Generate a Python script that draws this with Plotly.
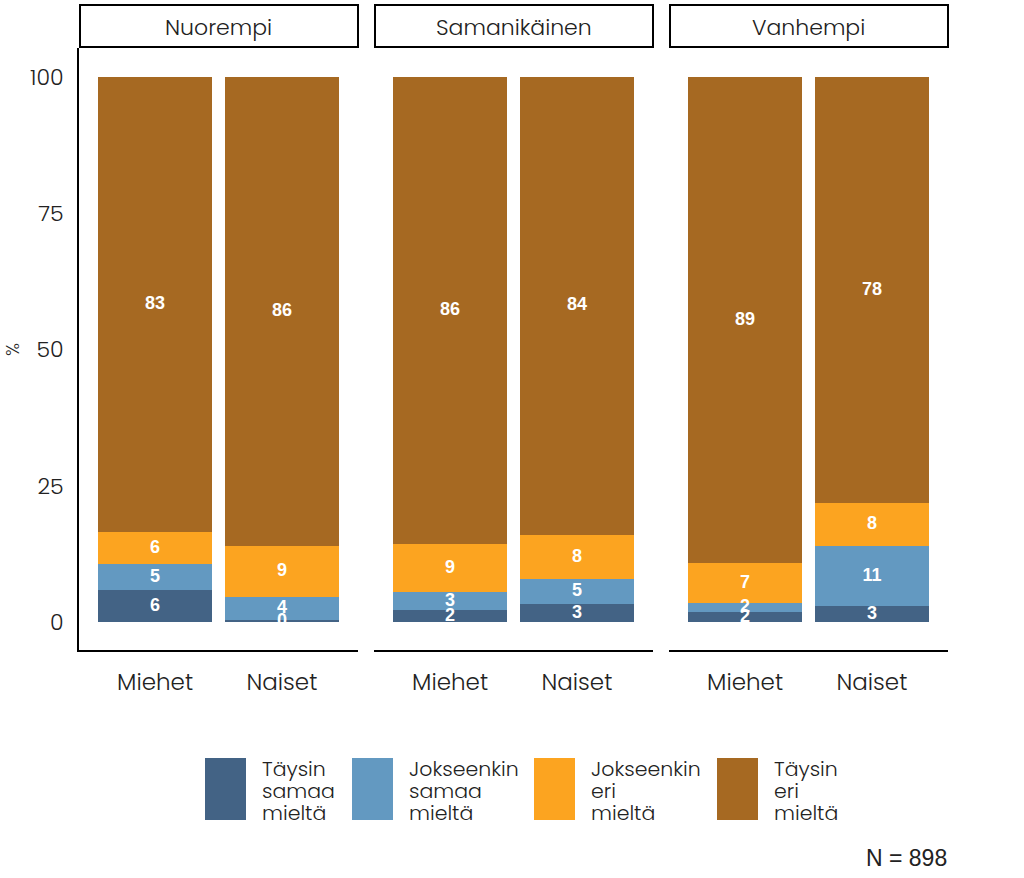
import plotly.graph_objects as go

# ---- data ----
panels = ["Nuorempi", "Samanikäinen", "Vanhempi"]
genders = ["Miehet", "Naiset"]
categories = ["Täysin samaa mieltä", "Jokseenkin samaa mieltä",
              "Jokseenkin eri mieltä", "Täysin eri mieltä"]
legend_lines = [["Täysin", "samaa", "mieltä"], ["Jokseenkin", "samaa", "mieltä"],
                ["Jokseenkin", "eri", "mieltä"], ["Täysin", "eri", "mieltä"]]
colors = ["#436385", "#6399c1", "#fca420", "#a66922"]

# values[panel][category] -> [Miehet, Naiset]
values = {
    "Nuorempi":     [[5.9, 0.4], [4.7, 4.3], [6.0, 9.2], [83.4, 86.1]],
    "Samanikäinen": [[2.2, 3.3], [3.3, 4.6], [8.8, 8.1], [85.7, 84.0]],
    "Vanhempi":     [[1.8, 2.9], [1.7, 11.0], [7.3, 7.9], [89.2, 78.2]],
}
yticks = [0, 25, 50, 75, 100]
caption = "N = 898"

W, H = 1024, 878
def px_x(x): return x / W
def px_y(y): return 1 - y / H

panel_px = [(79, 358), (374, 653), (669, 948)]
ytop, ybot = 48, 650
FONT = "Poppins, Inter, Open Sans, sans-serif"
LIGHT = dict(family=FONT, color="#222", weight=300)

fig = go.Figure()
layout = dict(
    width=W, height=H, margin=dict(l=0, r=0, t=0, b=0),
    plot_bgcolor="white", paper_bgcolor="white", showlegend=False,
    barmode="stack", font=dict(family=FONT, color="#222"),
)
shapes, annotations = [], []

for i, p in enumerate(panels):
    xa = "x" if i == 0 else f"x{i+1}"
    ya = "y" if i == 0 else f"y{i+1}"
    base = [0.0, 0.0]
    lx, ly, lt = [], [], []
    for c, cat in enumerate(categories):
        vals = values[p][c]
        fig.add_trace(go.Bar(x=genders, y=vals, name=cat, marker_color=colors[c],
                             marker_line_width=0, width=0.9, xaxis=xa, yaxis=ya,
                             hoverinfo="skip"))
        for g in range(2):
            lx.append(genders[g])
            ly.append(base[g] + vals[g] / 2)
            lt.append(str(int(round(vals[g]))))
            base[g] += vals[g]
    fig.add_trace(go.Scatter(x=lx, y=ly, text=lt, mode="text", xaxis=xa, yaxis=ya,
                             textfont=dict(color="white", size=18,
                                           family="Liberation Sans, Arial", weight="bold"),
                             hoverinfo="skip"))
    x0, x1 = panel_px[i]
    xkey = "xaxis" if i == 0 else f"xaxis{i+1}"
    ykey = "yaxis" if i == 0 else f"yaxis{i+1}"
    layout[xkey] = dict(domain=[px_x(x0), px_x(x1)], anchor=ya, range=[-0.6, 1.6],
                        showline=True, linecolor="black", linewidth=2, showgrid=False,
                        ticks="", ticklabelstandoff=10, zeroline=False,
                        tickfont=dict(size=23, **LIGHT))
    layout[ykey] = dict(domain=[px_y(ybot), px_y(ytop)], anchor=xa, range=[-5.1, 105.3],
                        showline=(i == 0), linecolor="black", linewidth=2, showgrid=False,
                        zeroline=False, tickvals=yticks, showticklabels=(i == 0),
                        ticks="", ticklabelstandoff=9,
                        tickfont=dict(size=22, **LIGHT))
    # strip
    shapes.append(dict(type="rect", xref="paper", yref="paper",
                       x0=px_x(x0 + 1), x1=px_x(x1), y0=px_y(47), y1=px_y(5),
                       line=dict(color="black", width=2), fillcolor="white"))
    annotations.append(dict(text=p, xref="paper", yref="paper", x=px_x((x0 + x1) / 2),
                            y=px_y(27), showarrow=False, xanchor="center", yanchor="middle",
                            font=dict(size=22, **LIGHT)))

# y title
annotations.append(dict(text="%", xref="paper", yref="paper", x=px_x(13), y=px_y(350),
                        textangle=-90, showarrow=False, xanchor="center", yanchor="middle",
                        font=dict(size=18, **LIGHT)))

# custom legend
key_x = [205, 352, 534, 717]
line_y = [768, 790, 812]
for c in range(4):
    shapes.append(dict(type="rect", xref="paper", yref="paper",
                       x0=px_x(key_x[c]), x1=px_x(key_x[c] + 41),
                       y0=px_y(820), y1=px_y(758), fillcolor=colors[c], line_width=0))
    for k, t in enumerate(legend_lines[c]):
        annotations.append(dict(text=t, xref="paper", yref="paper",
                                x=px_x(key_x[c] + 55), y=px_y(line_y[k]), xanchor="left",
                                yanchor="middle", align="left", showarrow=False,
                                font=dict(size=20.5, **LIGHT)))

annotations.append(dict(text=caption, xref="paper", yref="paper", x=px_x(949), y=px_y(858),
                        xanchor="right", yanchor="middle", showarrow=False,
                        font=dict(size=23, color="#222", family="Liberation Sans, Arial")))

layout["shapes"] = shapes
layout["annotations"] = annotations
fig.update_layout(**layout)
fig.write_html("out.html", config={"displayModeBar": False},
               post_script="document.body.style.margin='0';document.body.style.overflow='hidden';")
